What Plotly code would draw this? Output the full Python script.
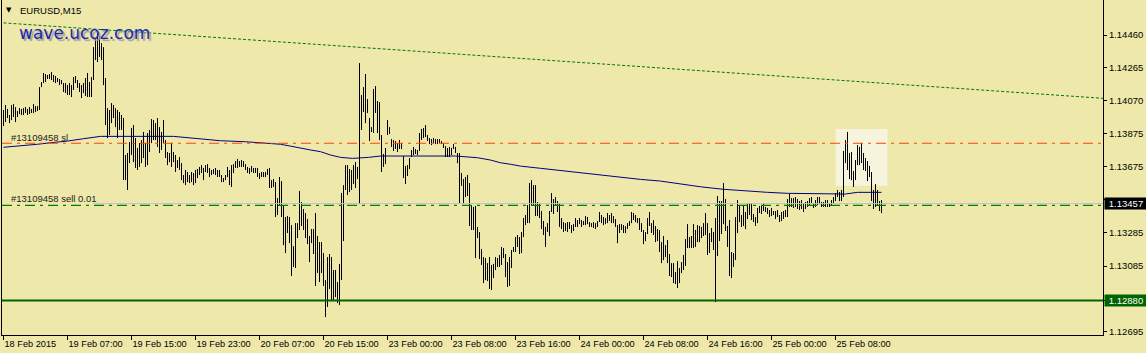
import plotly.graph_objects as go

# ---------------- data ----------------
title_text = "EURUSD,M15"
watermark_text = "wave.ucoz.com"
sl_label = "#13109458 sl"
order_label = "#13109458 sell 0.01"

time_label_bars = [0, 32, 64, 96, 128, 160, 192, 224, 256, 288, 320, 352, 384, 416]
time_labels = ["18 Feb 2015", "19 Feb 07:00", "19 Feb 15:00", "19 Feb 23:00", "20 Feb 07:00",
               "20 Feb 15:00", "23 Feb 00:00", "23 Feb 08:00", "23 Feb 16:00", "24 Feb 00:00",
               "24 Feb 08:00", "24 Feb 16:00", "25 Feb 00:00", "25 Feb 08:00"]

# the ticks at 1.13480 and 1.12880 sit under the price boxes, so their labels are hidden
price_ticks = [1.14460, 1.14265, 1.14070, 1.13875, 1.13675, 1.13480, 1.13285, 1.13085, 1.12880, 1.12695]
price_tick_text = ["1.14460", "1.14265", "1.14070", "1.13875", "1.13675", "", "1.13285",
                   "1.13085", "", "1.12695"]

high = [
    1.14014, 1.14043, 1.14020, 1.13984, 1.14043, 1.14049, 1.14031, 1.14008, 1.14025, 1.14020,
    1.14025, 1.14031, 1.14020, 1.14031, 1.14020, 1.14049, 1.14037, 1.14037, 1.14150, 1.14180,
    1.14234, 1.14228, 1.14222, 1.14228, 1.14240, 1.14222, 1.14216, 1.14204, 1.14198, 1.14192,
    1.14174, 1.14174, 1.14162, 1.14174, 1.14162, 1.14210, 1.14216, 1.14192, 1.14174, 1.14162,
    1.14174, 1.14204, 1.14234, 1.14180, 1.14210, 1.14388, 1.14442, 1.14472, 1.14454, 1.14412,
    1.14388, 1.14204, 1.14025, 1.14014, 1.14055, 1.14043, 1.14025, 1.14014, 1.14002, 1.13984,
    1.13966, 1.13746, 1.13758, 1.13823, 1.13907, 1.13924, 1.13847, 1.13788, 1.13817, 1.13835,
    1.13883, 1.13817, 1.13877, 1.13895, 1.13960, 1.13954, 1.13936, 1.13966, 1.13912, 1.13883,
    1.13954, 1.13835, 1.13764, 1.13758, 1.13817, 1.13764, 1.13746, 1.13716, 1.13734, 1.13698,
    1.13627, 1.13657, 1.13645, 1.13627, 1.13645, 1.13639, 1.13657, 1.13663, 1.13675, 1.13686,
    1.13669, 1.13686, 1.13692, 1.13669, 1.13657, 1.13663, 1.13669, 1.13657, 1.13657, 1.13627,
    1.13609, 1.13627, 1.13675, 1.13657, 1.13686, 1.13692, 1.13710, 1.13722, 1.13710, 1.13716,
    1.13710, 1.13692, 1.13675, 1.13669, 1.13681, 1.13669, 1.13669, 1.13669, 1.13639, 1.13645,
    1.13645, 1.13645, 1.13663, 1.13669, 1.13597, 1.13603, 1.13585, 1.13490, 1.13615, 1.13591,
    1.13448, 1.13377, 1.13383, 1.13377, 1.13329, 1.13204, 1.13341, 1.13341, 1.13532, 1.13466,
    1.13425, 1.13401, 1.13365, 1.13264, 1.13306, 1.13306, 1.13401, 1.13264, 1.13228, 1.13228,
    1.13163, 1.13002, 1.13139, 1.13157, 1.13139, 1.13062, 1.13062, 1.12990, 1.13098, 1.13520,
    1.13567, 1.13686, 1.13686, 1.13663, 1.13657, 1.13686, 1.13704, 1.13675, 1.14293, 1.14103,
    1.14150, 1.14228, 1.14079, 1.13966, 1.13912, 1.14139, 1.14156, 1.14067, 1.14061, 1.13865,
    1.13752, 1.13788, 1.13954, 1.13912, 1.13841, 1.13835, 1.13829, 1.13817, 1.13835, 1.13817,
    1.13740, 1.13681, 1.13686, 1.13728, 1.13776, 1.13794, 1.13782, 1.13776, 1.13877, 1.13901,
    1.13907, 1.13924, 1.13865, 1.13847, 1.13841, 1.13847, 1.13841, 1.13841, 1.13841, 1.13829,
    1.13817, 1.13799, 1.13788, 1.13794, 1.13788, 1.13811, 1.13794, 1.13758, 1.13758, 1.13639,
    1.13603, 1.13615, 1.13627, 1.13579, 1.13443, 1.13437, 1.13443, 1.13318, 1.13288, 1.13187,
    1.13139, 1.13133, 1.13103, 1.13139, 1.13092, 1.13098, 1.13139, 1.13133, 1.13151, 1.13199,
    1.13193, 1.13157, 1.13109, 1.13139, 1.13181, 1.13199, 1.13258, 1.13270, 1.13258, 1.13288,
    1.13371, 1.13389, 1.13448, 1.13579, 1.13597, 1.13567, 1.13567, 1.13466, 1.13460, 1.13413,
    1.13353, 1.13318, 1.13341, 1.13413, 1.13520, 1.13484, 1.13496, 1.13472, 1.13460, 1.13371,
    1.13347, 1.13341, 1.13347, 1.13347, 1.13329, 1.13335, 1.13371, 1.13359, 1.13371, 1.13359,
    1.13353, 1.13383, 1.13377, 1.13347, 1.13341, 1.13347, 1.13341, 1.13353, 1.13407, 1.13389,
    1.13377, 1.13371, 1.13401, 1.13389, 1.13401, 1.13383, 1.13365, 1.13329, 1.13335, 1.13335,
    1.13329, 1.13323, 1.13341, 1.13353, 1.13407, 1.13401, 1.13389, 1.13371, 1.13371, 1.13341,
    1.13300, 1.13288, 1.13371, 1.13407, 1.13341, 1.13359, 1.13324, 1.13306, 1.13300, 1.13228,
    1.13264, 1.13210, 1.13240, 1.13157, 1.13103, 1.13103, 1.13050, 1.13115, 1.13074, 1.13109,
    1.13151, 1.13246, 1.13335, 1.13258, 1.13264, 1.13335, 1.13300, 1.13329, 1.13324, 1.13318,
    1.13341, 1.13401, 1.13341, 1.13282, 1.13312, 1.13288, 1.13371, 1.13502, 1.13472, 1.13472,
    1.13579, 1.13484, 1.13324, 1.13359, 1.13169, 1.13163, 1.13377, 1.13478, 1.13443, 1.13389,
    1.13443, 1.13407, 1.13460, 1.13460, 1.13460, 1.13395, 1.13377, 1.13431, 1.13443, 1.13443,
    1.13460, 1.13437, 1.13431, 1.13419, 1.13431, 1.13413, 1.13413, 1.13419, 1.13389, 1.13407,
    1.13413, 1.13419, 1.13484, 1.13514, 1.13490, 1.13490, 1.13496, 1.13484, 1.13472, 1.13478,
    1.13460, 1.13466, 1.13472, 1.13490, 1.13496, 1.13460, 1.13478, 1.13496, 1.13496, 1.13466,
    1.13466, 1.13478, 1.13478, 1.13460, 1.13478, 1.13496, 1.13520, 1.13538, 1.13526, 1.13538,
    1.13770, 1.13835, 1.13883, 1.13758, 1.13764, 1.13651, 1.13716, 1.13805, 1.13794, 1.13817,
    1.13758, 1.13728, 1.13710, 1.13681, 1.13645, 1.13538, 1.13573, 1.13538, 1.13472, 1.13478,
]

low = [
    1.13918, 1.13942, 1.13966, 1.13936, 1.13954, 1.13972, 1.13942, 1.13972, 1.13990, 1.13984,
    1.13984, 1.13996, 1.13984, 1.13990, 1.13996, 1.13996, 1.14002, 1.14008, 1.14014, 1.14150,
    1.14174, 1.14180, 1.14198, 1.14198, 1.14192, 1.14180, 1.14174, 1.14180, 1.14162, 1.14168,
    1.14121, 1.14115, 1.14103, 1.14103, 1.14091, 1.14133, 1.14174, 1.14145, 1.14121, 1.14085,
    1.14115, 1.14097, 1.14091, 1.14091, 1.14091, 1.14192, 1.14311, 1.14299, 1.14329, 1.14311,
    1.14162, 1.13924, 1.13847, 1.13865, 1.13936, 1.13966, 1.13912, 1.13847, 1.13895, 1.13895,
    1.13597, 1.13597, 1.13538, 1.13698, 1.13746, 1.13704, 1.13669, 1.13657, 1.13675, 1.13698,
    1.13728, 1.13675, 1.13686, 1.13764, 1.13817, 1.13835, 1.13835, 1.13794, 1.13758, 1.13776,
    1.13817, 1.13728, 1.13686, 1.13704, 1.13675, 1.13704, 1.13645, 1.13669, 1.13657, 1.13597,
    1.13579, 1.13567, 1.13585, 1.13579, 1.13585, 1.13567, 1.13579, 1.13609, 1.13627, 1.13639,
    1.13597, 1.13645, 1.13639, 1.13615, 1.13627, 1.13633, 1.13627, 1.13615, 1.13615, 1.13585,
    1.13585, 1.13597, 1.13615, 1.13567, 1.13556, 1.13639, 1.13669, 1.13669, 1.13675, 1.13675,
    1.13675, 1.13657, 1.13639, 1.13633, 1.13645, 1.13639, 1.13639, 1.13615, 1.13603, 1.13615,
    1.13615, 1.13615, 1.13627, 1.13550, 1.13550, 1.13556, 1.13377, 1.13389, 1.13448, 1.13377,
    1.13210, 1.13163, 1.13282, 1.13222, 1.13026, 1.13080, 1.13074, 1.13252, 1.13300, 1.13324,
    1.13300, 1.13252, 1.13216, 1.13109, 1.13222, 1.13157, 1.12967, 1.13044, 1.12990, 1.13044,
    1.12967, 1.12782, 1.12842, 1.12949, 1.12877, 1.12877, 1.12901, 1.12865, 1.12854, 1.13002,
    1.13234, 1.13538, 1.13508, 1.13526, 1.13538, 1.13573, 1.13550, 1.13603, 1.13454, 1.13895,
    1.14002, 1.13936, 1.13996, 1.13829, 1.13883, 1.13877, 1.13996, 1.13877, 1.13835, 1.13645,
    1.13675, 1.13692, 1.13865, 1.13871, 1.13794, 1.13770, 1.13782, 1.13764, 1.13782, 1.13782,
    1.13609, 1.13573, 1.13621, 1.13663, 1.13734, 1.13746, 1.13752, 1.13746, 1.13770, 1.13835,
    1.13847, 1.13853, 1.13829, 1.13811, 1.13805, 1.13817, 1.13811, 1.13811, 1.13817, 1.13811,
    1.13788, 1.13734, 1.13734, 1.13734, 1.13746, 1.13782, 1.13758, 1.13698, 1.13460, 1.13562,
    1.13460, 1.13496, 1.13502, 1.13324, 1.13300, 1.13300, 1.13133, 1.13252, 1.13127, 1.13092,
    1.12984, 1.13002, 1.12996, 1.12949, 1.12943, 1.13014, 1.13062, 1.13080, 1.13080, 1.13092,
    1.13133, 1.13020, 1.12961, 1.12967, 1.13074, 1.13169, 1.13169, 1.13199, 1.13157, 1.13163,
    1.13258, 1.13329, 1.13341, 1.13341, 1.13443, 1.13448, 1.13383, 1.13383, 1.13371, 1.13306,
    1.13270, 1.13199, 1.13288, 1.13264, 1.13407, 1.13395, 1.13448, 1.13407, 1.13318, 1.13306,
    1.13288, 1.13294, 1.13288, 1.13306, 1.13282, 1.13294, 1.13318, 1.13318, 1.13335, 1.13318,
    1.13329, 1.13329, 1.13335, 1.13318, 1.13318, 1.13312, 1.13306, 1.13318, 1.13347, 1.13341,
    1.13329, 1.13335, 1.13341, 1.13353, 1.13341, 1.13341, 1.13318, 1.13222, 1.13282, 1.13300,
    1.13282, 1.13282, 1.13306, 1.13324, 1.13341, 1.13359, 1.13347, 1.13341, 1.13300, 1.13288,
    1.13216, 1.13234, 1.13276, 1.13324, 1.13282, 1.13270, 1.13228, 1.13234, 1.13169, 1.13103,
    1.13121, 1.13139, 1.13103, 1.13026, 1.13020, 1.12984, 1.12978, 1.12955, 1.12984, 1.13044,
    1.13062, 1.13086, 1.13193, 1.13193, 1.13193, 1.13193, 1.13199, 1.13228, 1.13228, 1.13252,
    1.13264, 1.13270, 1.13151, 1.13163, 1.13228, 1.13181, 1.12871, 1.13145, 1.13234, 1.13276,
    1.13335, 1.13294, 1.13199, 1.13026, 1.13014, 1.13080, 1.13121, 1.13282, 1.13347, 1.13318,
    1.13324, 1.13306, 1.13365, 1.13389, 1.13359, 1.13347, 1.13324, 1.13341, 1.13401, 1.13395,
    1.13413, 1.13407, 1.13395, 1.13377, 1.13383, 1.13389, 1.13365, 1.13377, 1.13347, 1.13353,
    1.13365, 1.13377, 1.13377, 1.13437, 1.13437, 1.13431, 1.13437, 1.13425, 1.13419, 1.13425,
    1.13407, 1.13425, 1.13437, 1.13443, 1.13460, 1.13431, 1.13437, 1.13448, 1.13454, 1.13437,
    1.13437, 1.13437, 1.13437, 1.13437, 1.13448, 1.13460, 1.13472, 1.13496, 1.13472, 1.13472,
    1.13496, 1.13698, 1.13657, 1.13603, 1.13597, 1.13556, 1.13597, 1.13686, 1.13686, 1.13698,
    1.13657, 1.13651, 1.13591, 1.13615, 1.13472, 1.13425, 1.13437, 1.13443, 1.13413, 1.13401,
]

# moving average read at sample bars
ma_bar = [0, 8.5, 17, 23.5, 32, 40, 48.5, 85, 90, 98.5, 108.5, 121, 132.5, 138.5, 143.5, 148.5,
          153.5, 158.5, 163.5, 168.5, 174.5, 182.5, 188.5, 226, 232, 237, 243.5, 248.5, 253.5,
          258.5, 268.5, 278.5, 288.5, 298.5, 308.5, 318.5, 328.5, 338.5, 348.5, 360, 372, 382,
          392, 415, 421, 427, 439]
ma_val = [1.13792, 1.13799, 1.13810, 1.13819, 1.13829, 1.13843, 1.13857, 1.13857, 1.13851,
          1.13839, 1.13831, 1.13825, 1.13815, 1.13810, 1.13799, 1.13786, 1.13776, 1.13766,
          1.13746, 1.13732, 1.13726, 1.13732, 1.13740, 1.13740, 1.13736, 1.13730, 1.13716,
          1.13700, 1.13691, 1.13680, 1.13667, 1.13653, 1.13641, 1.13629, 1.13613, 1.13601,
          1.13591, 1.13573, 1.13557, 1.13542, 1.13530, 1.13524, 1.13518, 1.13517, 1.13514,
          1.13524, 1.13524]

trend_bar = [0, 550]
trend_price = [1.14532, 1.14083]

sl_price = 1.13816
order_price = 1.13447
bid_price = 1.13457
bid_label = "1.13457"
support_price = 1.12880
support_label = "1.12880"

box_bar = [416, 442]
box_price = [1.13563, 1.13901]

# ---------------- styling ----------------
BG = "#EEE8AA"
FONT = "Liberation Sans"
n_bars = len(high)

bx, by = [], []
for i in range(n_bars):
    bx += [i, i, None]
    by += [high[i], low[i], None]

fig = go.Figure()

fig.add_trace(go.Scatter(x=bx, y=by, mode="lines", line=dict(color="black", width=1),
                         hoverinfo="skip", showlegend=False))
fig.add_trace(go.Scatter(x=ma_bar, y=ma_val, mode="lines", line=dict(color="#000080", width=1),
                         hoverinfo="skip", showlegend=False))
fig.add_trace(go.Scatter(x=trend_bar, y=trend_price, mode="lines",
                         line=dict(color="#007A00", width=1, dash="3px,2px"),
                         hoverinfo="skip", showlegend=False))

shapes = [
    dict(type="rect", xref="x", yref="y", x0=box_bar[0], x1=box_bar[1], y0=box_price[0],
         y1=box_price[1], fillcolor="#F6F4DC", line=dict(width=0), layer="below"),
    dict(type="line", xref="paper", yref="y", x0=0, x1=1, y0=sl_price, y1=sl_price,
         line=dict(color="#FF4500", width=1.2, dash="10px,5px,3px,5px")),
    dict(type="line", xref="x", yref="y", x0=45, x1=550, y0=bid_price, y1=bid_price,
         line=dict(color="#C0C0C0", width=1)),
    dict(type="line", xref="paper", yref="y", x0=0, x1=1, y0=order_price, y1=order_price,
         line=dict(color="#008000", width=1.2, dash="10px,5px,3px,5px")),
    dict(type="line", xref="paper", yref="y", x0=0, x1=1, y0=support_price, y1=support_price,
         line=dict(color="#006400", width=2)),
]

annotations = [
    dict(xref="paper", yref="paper", x=0, y=1, xshift=6.5, yshift=-10, text="▼",
         showarrow=False, xanchor="center", yanchor="middle",
         font=dict(family="DejaVu Sans", size=7, color="black")),
    dict(xref="paper", yref="paper", x=0, y=1, xshift=16, yshift=-10, text=title_text,
         showarrow=False, xanchor="left", yanchor="middle",
         font=dict(family=FONT, size=9.5, color="black")),
    dict(xref="paper", yref="paper", x=0, y=1, xshift=15, yshift=-33, text=watermark_text,
         showarrow=False, xanchor="left", yanchor="middle",
         font=dict(family="DejaVu Sans", size=17, color="#1A28B4",
                   shadow="2px 2px 1px #9C9C9C")),
    dict(xref="paper", yref="y", x=0, y=sl_price, xshift=7, yshift=6, text=sl_label,
         showarrow=False, xanchor="left", yanchor="middle",
         font=dict(family=FONT, size=9.5, color="#222222")),
    dict(xref="paper", yref="y", x=0, y=order_price, xshift=7, yshift=7, text=order_label,
         showarrow=False, xanchor="left", yanchor="middle",
         font=dict(family=FONT, size=9.5, color="#222222")),
    dict(xref="paper", yref="y", x=1, y=bid_price, xshift=1, text=bid_label,
         showarrow=False, xanchor="left", yanchor="middle", width=40, height=9, borderpad=1,
         align="center", bgcolor="black", font=dict(family=FONT, size=9.5, color="white")),
    dict(xref="paper", yref="y", x=1, y=support_price, xshift=1, text=support_label,
         showarrow=False, xanchor="left", yanchor="middle", width=40, height=9, borderpad=1,
         align="center", bgcolor="#006400", font=dict(family=FONT, size=9.5, color="white")),
]

fig.update_layout(
    width=1146, height=353,
    margin=dict(l=2, r=43, t=0, b=18, pad=0),
    paper_bgcolor=BG, plot_bgcolor=BG,
    showlegend=False,
    shapes=shapes, annotations=annotations,
    xaxis=dict(range=[-0.75, 549.75], tickmode="array", tickvals=time_label_bars,
               ticktext=time_labels, ticks="outside", ticklen=4, tickcolor="black",
               ticklabelposition="outside right", tickangle=0,
               showgrid=False, zeroline=False, showline=True, linecolor="black", linewidth=1,
               tickfont=dict(family=FONT, size=9.2, color="black"), fixedrange=True),
    yaxis=dict(range=[1.126753, 1.146682], side="right", tickmode="array", tickvals=price_ticks,
               ticktext=price_tick_text, ticks="outside", ticklen=3, tickcolor="black",
               showgrid=False, zeroline=False, showline=True, mirror=True, linecolor="black",
               linewidth=1, tickfont=dict(family=FONT, size=9.5, color="black"), fixedrange=True),
)

fig.write_html("out.html")
